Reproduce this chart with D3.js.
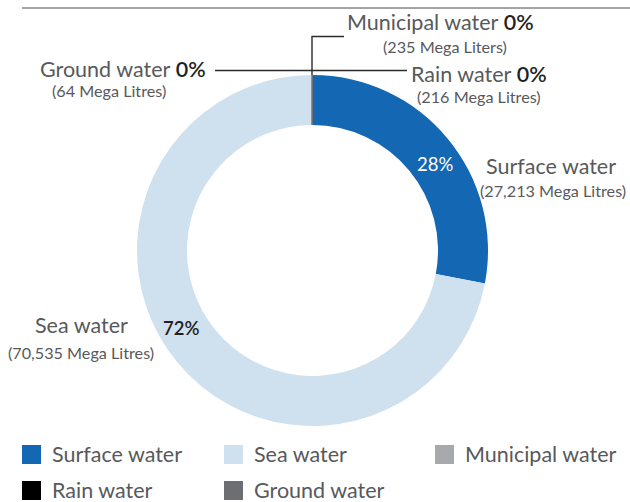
<!DOCTYPE html>
<html><head><meta charset="utf-8">
<script src="https://cdn.jsdelivr.net/npm/d3@7"></script>
<style>
html,body{margin:0;padding:0;background:#fff;}
svg{display:block;}
text{font-family:Lato,"Open Sans",sans-serif;}
</style></head>
<body>
<svg id="chart" width="630" height="502"></svg>
<script>
// ---- data ----
const categories = ["Surface water", "Sea water", "Municipal water", "Rain water", "Ground water"];
const percents = [28, 72, 0, 0, 0];
const volumes = ["27,213", "70,535", "235", "216", "64"];
const units = ["Mega Litres", "Mega Litres", "Mega Liters", "Mega Litres", "Mega Litres"];
const colors = ["#1467b3", "#cfe1ee", "#a7a9ac", "#000000", "#6d6e71"];

const svg = d3.select("#chart");
const W = 630, H = 502;
const cx = 312.5, cy = 250.5, R = 175.5, r = 125.5;
const textGray = "#58595b", dark = "#231f20";
const mainSize = 21.5, subSize = 16.2;

// top rule
svg.append("line").attr("x1", 22).attr("x2", W).attr("y1", 8).attr("y2", 8)
  .attr("stroke", "#a3a3a3").attr("stroke-width", 2);

const color = d3.scaleOrdinal().domain(categories).range(colors);
const pie = d3.pie().sort(null).value(d => d.pct);
const arc = d3.arc().innerRadius(r).outerRadius(R);
const data = categories.map((c, i) => ({cat: c, pct: percents[i], vol: volumes[i], unit: units[i]}));
const arcs = pie(data);

const g = svg.append("g").attr("transform", `translate(${cx},${cy})`);
g.selectAll("path").data(arcs).enter().append("path")
  .attr("d", arc)
  .attr("fill", d => color(d.data.cat))
  .attr("stroke", d => d.data.pct === 0 ? color(d.data.cat) : "none")
  .attr("stroke-width", 1.5);

// leader lines
const lead = svg.append("g").attr("stroke", "#2b2b2b").attr("stroke-width", 1.4).attr("fill", "none");
lead.append("path").attr("d", `M${cx-0.5},${cy-R} V36.5 H344`);
lead.append("path").attr("d", `M215,70.5 H407`);

function label(x, y, name, pct, sub, subX, subY, bold) {
  const t = svg.append("text").attr("x", x).attr("y", y).attr("font-size", mainSize).attr("fill", textGray);
  t.append("tspan").text(name);
  if (bold) t.append("tspan").attr("font-weight", 600).attr("fill", dark).text(" " + pct + "%");
  svg.append("text").attr("x", subX).attr("y", subY).attr("font-size", subSize).attr("fill", textGray)
    .text(sub);
}
const sub = i => `(${data[i].vol} ${data[i].unit})`;
label(347, 30, categories[2], percents[2], sub(2), 383, 53, true);
label(40, 77, categories[4], percents[4], sub(4), 52, 97, true);
label(411, 82, categories[3], percents[3], sub(3), 417, 103, true);
label(486, 174, categories[0], percents[0], sub(0), 480, 197, false);
label(35, 333, categories[1], percents[1], sub(1), 8, 359, false);

svg.append("text").attr("x", 417).attr("y", 171).attr("font-size", 18.5).attr("fill", "#fff")
  .text(percents[0] + "%");
svg.append("text").attr("x", 163).attr("y", 335).attr("font-size", 18.5).attr("fill", dark)
  .attr("font-weight", 600).text(percents[1] + "%");

// legend
const legPos = [[22, 445], [224, 445], [435, 445], [22, 481], [224, 481]];
const leg = svg.append("g");
categories.forEach((c, i) => {
  const [lx, ly] = legPos[i];
  leg.append("rect").attr("x", lx).attr("y", ly).attr("width", 19).attr("height", 19).attr("fill", color(c));
  leg.append("text").attr("x", lx + 30).attr("y", ly + 17).attr("font-size", mainSize).attr("fill", textGray).text(c);
});
</script>
</body></html>
